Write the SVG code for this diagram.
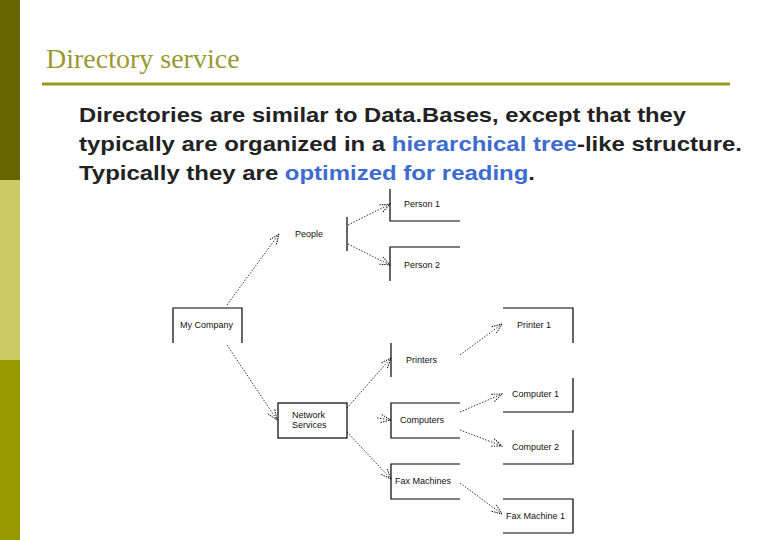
<svg xmlns="http://www.w3.org/2000/svg" width="780" height="540" viewBox="0 0 780 540">
<style>
.lbl{font-family:"Liberation Sans",Arial,sans-serif;font-size:9px;fill:#111}
.box{fill:none;stroke:#000;stroke-width:1.2}
.con{fill:none;stroke:#000;stroke-width:0.8;stroke-dasharray:1.5 1.5}
.body{font-family:"Liberation Sans",Arial,sans-serif;font-size:20.5px;font-weight:bold;fill:#222}
.hl{fill:#3d6bd0}
</style>
<defs>
<marker id="arr" viewBox="0 0 12 10" refX="11" refY="5" markerWidth="12" markerHeight="10" markerUnits="userSpaceOnUse" orient="auto">
<path d="M1,1 L11,5 L1,9" fill="none" stroke="#000" stroke-width="0.9" stroke-dasharray="1.5 1"/>
</marker>
</defs>
<rect width="780" height="540" fill="#fff"/>
<rect x="0" y="0" width="20" height="180" fill="#666600"/>
<rect x="0" y="180" width="20" height="180" fill="#cccc66"/>
<rect x="0" y="360" width="20" height="180" fill="#999900"/>
<text x="46" y="68" font-family="Liberation Serif,Times New Roman,serif" font-size="28" fill="#999933">Directory service</text>
<line x1="42" y1="84" x2="730" y2="84" stroke="#999922" stroke-width="3"/>
<text class="body" x="79" y="122" textLength="607" lengthAdjust="spacingAndGlyphs">Directories are similar to Data.Bases, except that they</text>
<text class="body" x="79" y="151" textLength="663" lengthAdjust="spacingAndGlyphs">typically are organized in a <tspan class="hl">hierarchical tree</tspan>-like structure.</text>
<text class="body" x="79" y="180" textLength="456" lengthAdjust="spacingAndGlyphs">Typically they are <tspan class="hl">optimized for reading</tspan>.</text>
<g id="connectors">
<line class="con" x1="227" y1="305" x2="279" y2="234" marker-end="url(#arr)"/>
<line class="con" x1="227" y1="345" x2="277" y2="420" marker-end="url(#arr)"/>
<line class="con" x1="348" y1="225" x2="390" y2="204" marker-end="url(#arr)"/>
<line class="con" x1="348" y1="244" x2="390" y2="265" marker-end="url(#arr)"/>
<line class="con" x1="347" y1="408" x2="391" y2="358" marker-end="url(#arr)"/>
<line class="con" x1="377" y1="418" x2="391" y2="420" marker-end="url(#arr)"/>
<line class="con" x1="347" y1="432" x2="391" y2="479" marker-end="url(#arr)"/>
<line class="con" x1="460" y1="355" x2="502" y2="324" marker-end="url(#arr)"/>
<line class="con" x1="460" y1="412" x2="502" y2="394" marker-end="url(#arr)"/>
<line class="con" x1="460" y1="430" x2="502" y2="446" marker-end="url(#arr)"/>
<line class="con" x1="460" y1="483" x2="502" y2="514" marker-end="url(#arr)"/>
</g>
<g id="person1"><path class="box" d="M390,189 V221 H460"/><text class="lbl" x="404" y="207">Person 1</text></g>
<g id="people"><path class="box" d="M347,217 V251"/><text class="lbl" x="295" y="237">People</text></g>
<g id="person2"><path class="box" d="M460,247 H390 V281"/><text class="lbl" x="404" y="268">Person 2</text></g>
<g id="mycompany"><path class="box" d="M173,343 V308 H242 V343"/><text class="lbl" x="180" y="328">My Company</text></g>
<g id="printer1"><path class="box" d="M503,308 H573 V343"/><text class="lbl" x="517" y="328">Printer 1</text></g>
<g id="printers"><path class="box" d="M391,343 V377"/><text class="lbl" x="406" y="363">Printers</text></g>
<g id="network"><rect class="box" x="278" y="403" width="69" height="35"/><text class="lbl" x="292" y="418">Network</text><text class="lbl" x="292" y="428">Services</text></g>
<g id="computers"><path class="box" d="M460,403 H391 V438 H460"/><text class="lbl" x="400" y="423">Computers</text></g>
<g id="computer1"><path class="box" d="M573,378 V412 H503"/><text class="lbl" x="512" y="397">Computer 1</text></g>
<g id="computer2"><path class="box" d="M573,430 V464 H503"/><text class="lbl" x="512" y="450">Computer 2</text></g>
<g id="faxmachines"><path class="box" d="M460,464 H391 V499 H460"/><text class="lbl" x="395" y="484">Fax Machines</text></g>
<g id="faxmachine1"><path class="box" d="M503,499 H573 V533 H503"/><text class="lbl" x="506" y="519">Fax Machine 1</text></g>
</svg>
